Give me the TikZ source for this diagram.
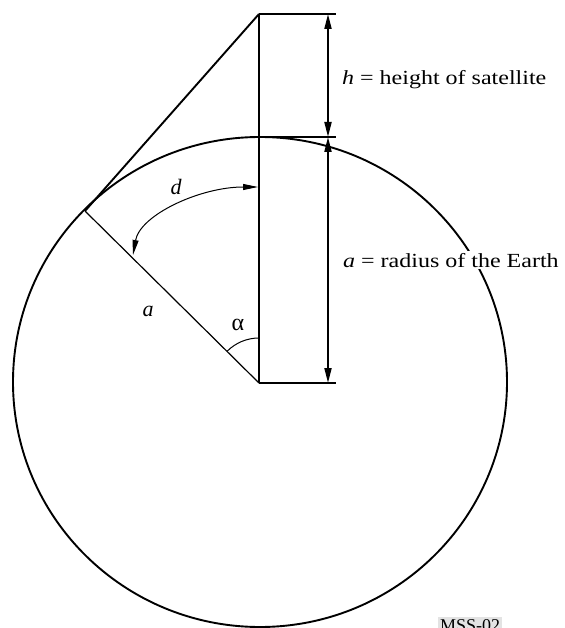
\documentclass[tikz,border=0pt]{standalone}
\usepackage{fontspec}
\setmainfont{Liberation Serif}
\usetikzlibrary{arrows.meta}
\begin{document}
\begin{tikzpicture}[x=1pt,y=-1pt,
  thickline/.style={line width=1.9pt},
  thinline/.style={line width=1.2pt},
  dimtip/.style={{Triangle[length=15pt,width=7pt]}-{Triangle[length=15pt,width=7pt]}},
  arctip/.style={{Triangle[length=15pt,width=6pt]}-{Triangle[length=15pt,width=6pt]}},
  lbl/.style={font=\fontsize{20}{24}\selectfont, inner sep=1pt},
  bglbl/.style={lbl, fill=white, inner sep=2pt}
]
\useasboundingbox (0,0) rectangle (564,628);
% key points
\coordinate (S) at (259,14);
\coordinate (T) at (259,137);
\coordinate (C) at (259,383);
\coordinate (P) at (85,211);
\coordinate (E1) at (336,14);
\coordinate (E2) at (336,137);
\coordinate (E3) at (336,383);
\coordinate (D1) at (328,14);
\coordinate (D2) at (328,137);
\coordinate (D3) at (328,383);
\coordinate (A1) at (258,187);
\coordinate (A2) at (133,255);
% Earth
\draw[thickline] (260,382) ellipse [x radius=247, y radius=245];
% geometry
\draw[thickline] (S) -- (C);
\draw[thickline] (S) -- (P);
\draw[thinline] (P) -- (C);
% extension lines
\draw[thinline] (S) -- (E1);
\draw[thinline] (T) -- (E2);
\draw[thinline] (C) -- (E3);
% dimension lines
\draw[thickline, dimtip] (D1) -- (D2);
\draw[thickline, dimtip] (D2) -- (D3);
% arc d
\draw[line width=1pt, arctip] (A2) .. controls (140,215) and (200,187) .. (A1);
% angle alpha
\draw[line width=1pt] (C) ++(270:45) arc[start angle=270, end angle=225, radius=45];
% labels
\node[lbl, anchor=base west] (hl) at (341,85) {\scalebox{1.2}[1]{\textit{h} = height of satellite}};
\node[bglbl, anchor=base west] (al) at (341,267) {\scalebox{1.2}[1]{\textit{a} = radius of the Earth}};
\node[lbl, font=\fontsize{22}{26}\selectfont\itshape] (dl) at (176,187) {d};
\node[lbl, font=\fontsize{22}{26}\selectfont\itshape] (ar) at (148,311) {a};
\node[lbl, font=\fontsize{24}{28}\selectfont] (alpha) at (238,325) {α};
\node[fill=gray!22, font=\fontsize{18}{21}\selectfont, inner sep=2pt, anchor=north west] (mss) at (438,617) {MSS-02};
\end{tikzpicture}
\end{document}
